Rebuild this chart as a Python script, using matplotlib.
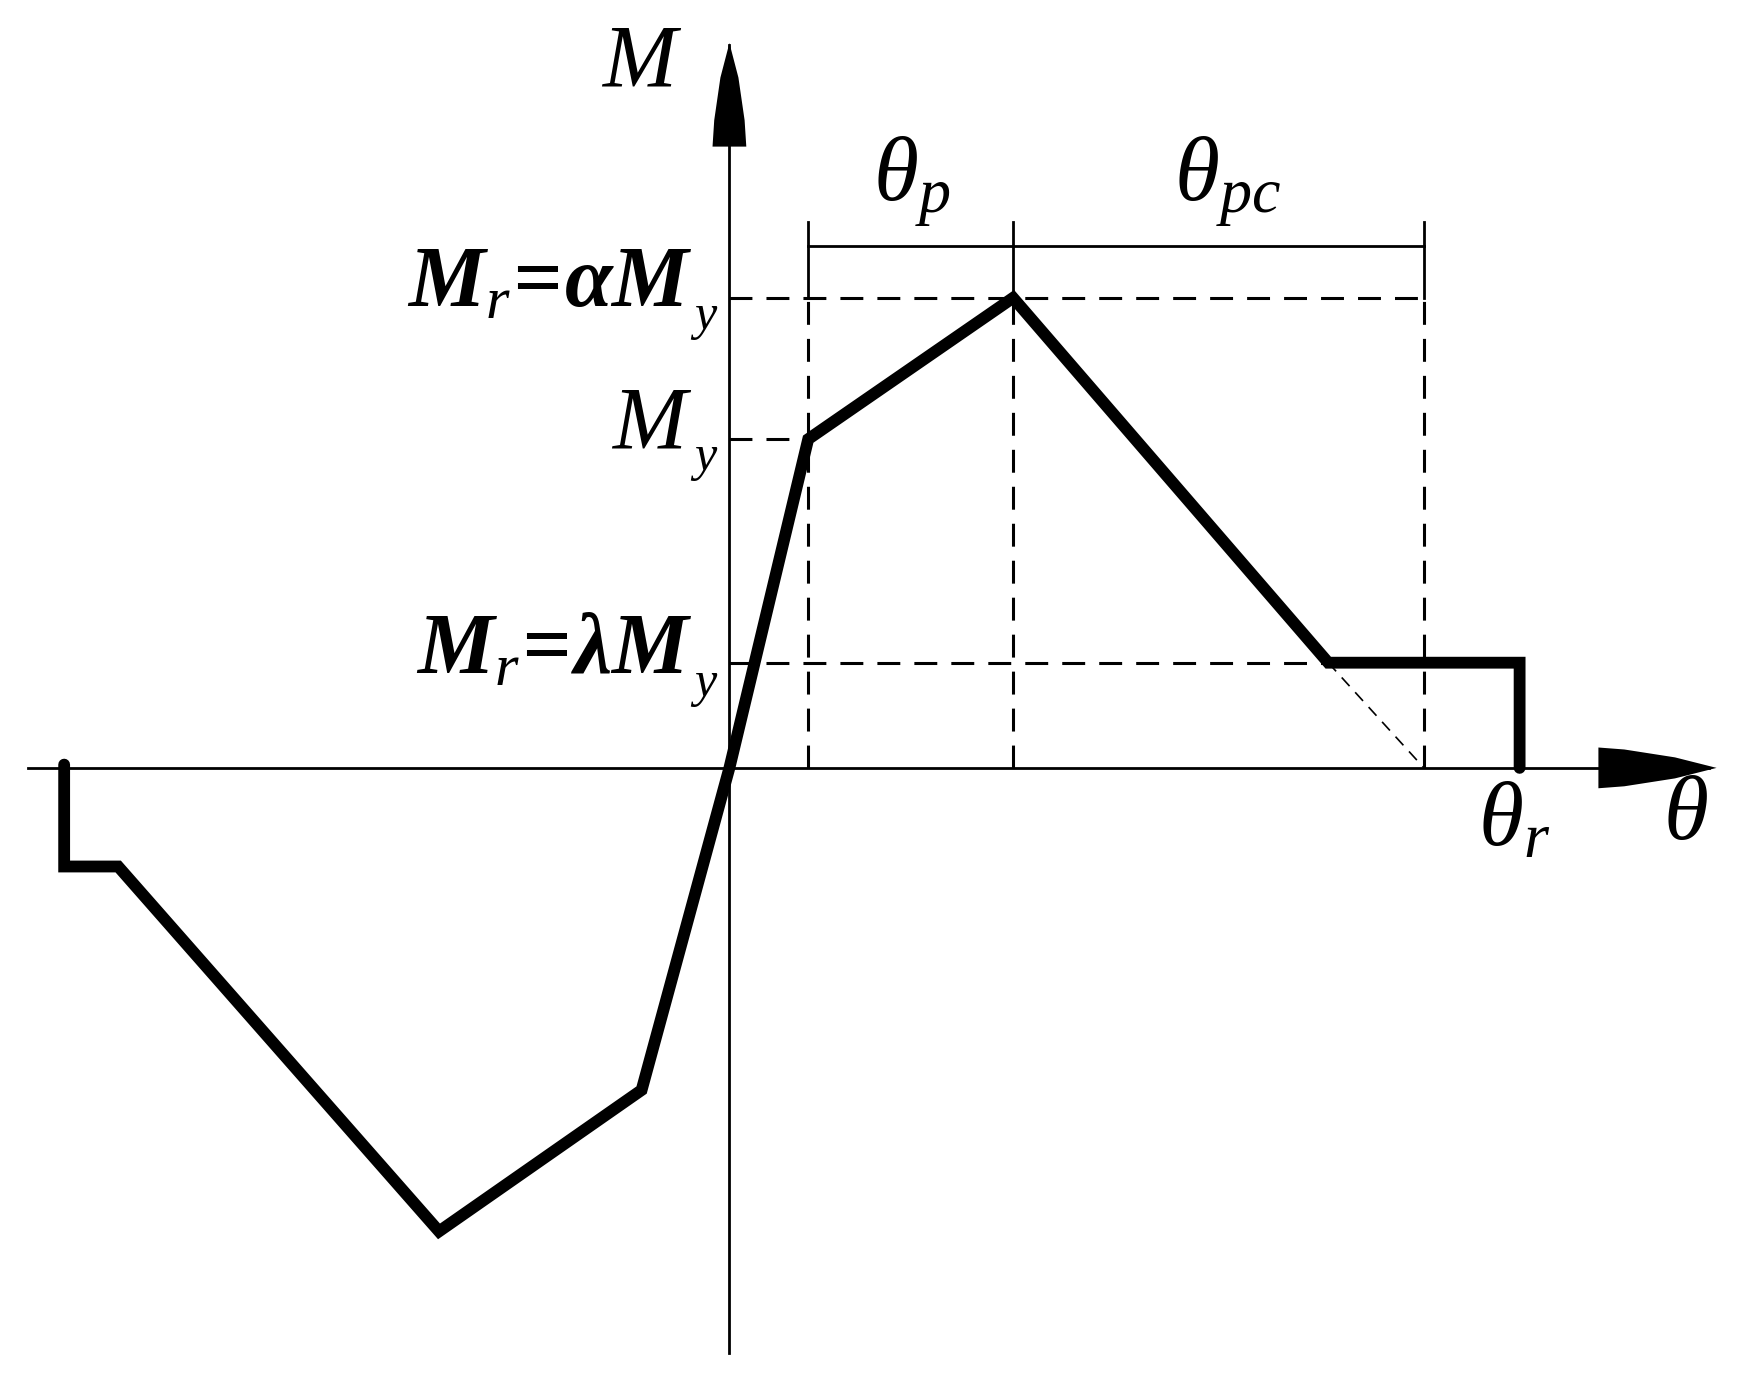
import matplotlib
matplotlib.use('Agg')

import matplotlib.pyplot as plt

plt.rcParams['mathtext.fontset'] = 'custom'
plt.rcParams['mathtext.it'] = 'Liberation Serif:italic'
plt.rcParams['mathtext.rm'] = 'Liberation Serif'
plt.rcParams['mathtext.bf'] = 'Liberation Serif:bold'
plt.rcParams['mathtext.bfit'] = 'Liberation Serif:italic:bold'

# backbone curve: rotation (arbitrary units) and moment (M / My)
theta = [-5.91, -5.91, -5.43, -2.58, -0.78, 0.0, 0.70, 2.52, 5.32, 7.02, 7.02]
moment = [0.01, -0.30, -0.30, -1.41, -0.98, 0.0, 1.0, 1.43, 0.32, 0.32, 0.0]

theta_y = 0.70     # yield
theta_c = 2.52     # capping point
theta_res = 5.32   # start of residual branch
theta_u = 6.17     # end of post-capping slope (extended)
theta_r = 7.02     # ultimate
alpha = 1.43
lam = 0.32

fig = plt.figure(figsize=(17.65, 13.77), dpi=100)
ax = fig.add_axes([0, 0, 1, 1])
ax.set_xlim(-6.48, 9.20)
ax.set_ylim(-1.853, 2.336)
ax.axis('off')

# axes with arrows
ax.plot([-6.23, 8.70], [0, 0], color='black', lw=2.0)
ax.plot([0, 0], [-1.781, 2.20], color='black', lw=2.0)
ax.fill([7.72, 7.95, 8.40, 8.77, 8.40, 7.95, 7.72],
        [-0.062, -0.056, -0.032, 0, 0.032, 0.056, 0.062], color='black', lw=0)
ax.fill([-0.15, -0.135, -0.08, 0, 0.08, 0.135, 0.15],
        [1.89, 1.97, 2.10, 2.205, 2.10, 1.97, 1.89], color='black', lw=0)

dash = dict(color='black', lw=2.2, linestyle=(0, (7.5, 4.6)))
# horizontal guides
ax.plot([0, theta_u], [alpha, alpha], **dash)
ax.plot([0, theta_y], [1.0, 1.0], **dash)
ax.plot([0, theta_res], [lam, lam], **dash)
# vertical guides
ax.plot([theta_y, theta_y], [0, alpha], **dash)
ax.plot([theta_c, theta_c], [0, alpha], **dash)
ax.plot([theta_u, theta_u], [0, alpha], **dash)
# extension of softening branch
ax.plot([theta_res, theta_u], [lam, 0], color='black', lw=1.2, linestyle=(0, (7, 5)))

# dimension line for theta_p / theta_pc
dim_y = (682 - 218) / 292.
top_y = (682 - 197) / 292.
ax.plot([theta_y, theta_u], [dim_y, dim_y], color='black', lw=2.0)
for t in (theta_y, theta_c, theta_u):
    ax.plot([t, t], [alpha, top_y], color='black', lw=2.0)

# backbone
ax.plot(theta, moment, color='black', lw=8.5, solid_joinstyle='miter', solid_capstyle='round')

fs = 62
sub = 36
ax.text(-0.78, 2.15, r'$M$', fontsize=64, ha='center', va='center')
ax.text(1.62, 1.78, r'$\theta_p$', fontsize=66, ha='center', va='center')
ax.text(4.42, 1.78, r'$\theta_{pc}$', fontsize=66, ha='center', va='center')

# M labels on the moment axis; the "y" subscript sits low, drawn on its own
x_right = -0.33
y_x = -0.22
ax.text(x_right, 1.404, r'$\mathbfit{M}_{r}\!\mathbfit{=}\!\mathbfit{\alpha}\mathbfit{M}$', fontsize=fs,
        ha='right', va='baseline')
ax.text(y_x, 1.335, r'$y$', fontsize=sub, ha='center', va='baseline')
ax.text(x_right, 0.976, r'$M$', fontsize=64, ha='right', va='baseline')
ax.text(y_x, 0.907, r'$y$', fontsize=sub, ha='center', va='baseline')
ax.text(x_right, 0.288, r'$\mathbfit{M}_{r}\!\mathbfit{=}\!\mathbfit{\lambda}\mathbfit{M}$', fontsize=fs,
        ha='right', va='baseline')
ax.text(y_x, 0.219, r'$y$', fontsize=sub, ha='center', va='baseline')

ax.text(6.97, -0.233, r'$\theta_r$', fontsize=66, ha='center', va='baseline')
ax.text(8.49, -0.216, r'$\theta$', fontsize=66, ha='center', va='baseline')

plt.savefig('out.png', dpi=100)
plt.close()
